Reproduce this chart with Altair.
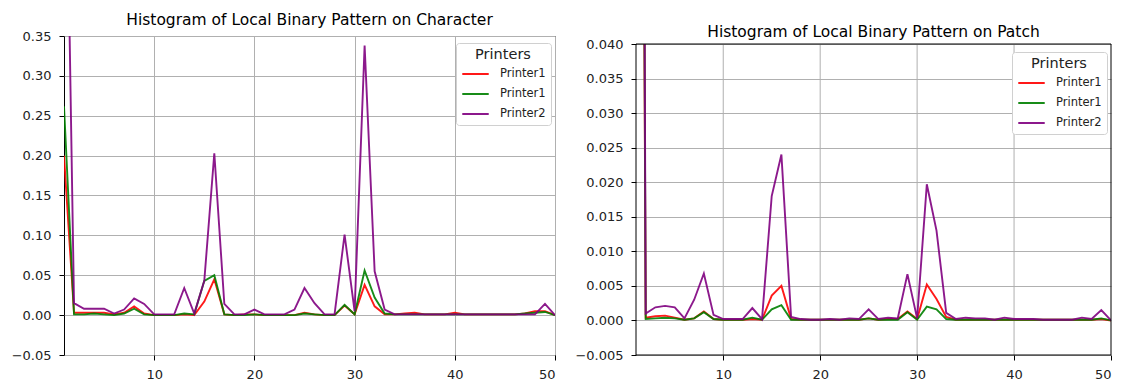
import altair as alt
import pandas as pd

x_index = list(range(1, 51))
series_keys = ["Printer1_a", "Printer1_b", "Printer2"]
series_colors = ["#ff0000", "#008000", "#800080"]

# Histogram of LBP on Character
char_red = [0.20, 0.003, 0.003, 0.003, 0.003, 0.001, 0.003, 0.011, 0.002, 0.0,
            0.0, 0.0, 0.001, 0.0, 0.017, 0.045, 0.001, 0.0, 0.001, 0.001,
            0.0, 0.0, 0.0, 0.0, 0.003, 0.001, 0.0, 0.0, 0.012, 0.001,
            0.038, 0.011, 0.001, 0.001, 0.002, 0.003, 0.001, 0.001, 0.001, 0.003,
            0.001, 0.001, 0.001, 0.001, 0.001, 0.001, 0.002, 0.005, 0.005, 0.0]
char_green = [0.262, 0.001, 0.001, 0.002, 0.001, 0.0, 0.002, 0.008, 0.001, 0.0,
              0.0, 0.0, 0.002, 0.001, 0.043, 0.050, 0.001, 0.0, 0.0, 0.001,
              0.0, 0.0, 0.0, 0.0, 0.002, 0.001, 0.0, 0.0, 0.013, 0.001,
              0.056, 0.022, 0.002, 0.001, 0.001, 0.001, 0.001, 0.001, 0.001, 0.001,
              0.001, 0.001, 0.001, 0.001, 0.001, 0.001, 0.002, 0.003, 0.004, 0.0]
char_purple = [0.78, 0.015, 0.008, 0.008, 0.008, 0.002, 0.007, 0.021, 0.014, 0.001,
               0.001, 0.001, 0.034, 0.002, 0.043, 0.203, 0.014, 0.001, 0.001, 0.007,
               0.001, 0.001, 0.001, 0.007, 0.034, 0.015, 0.001, 0.001, 0.101, 0.005,
               0.338, 0.055, 0.007, 0.001, 0.001, 0.001, 0.001, 0.001, 0.001, 0.001,
               0.001, 0.001, 0.001, 0.001, 0.001, 0.001, 0.001, 0.001, 0.014, 0.0]

# Histogram of LBP on Patch
patch_red = [0.30, 0.0004, 0.0006, 0.0007, 0.0004, 0.0001, 0.0003, 0.0013, 0.0002, 0.0001,
             0.0001, 0.0001, 0.0002, 0.0001, 0.0036, 0.0050, 0.0002, 0.0001, 0.0001, 0.0001,
             0.0001, 0.0001, 0.0001, 0.0001, 0.0003, 0.0001, 0.0002, 0.0002, 0.0013, 0.0002,
             0.0052, 0.0031, 0.0005, 0.0001, 0.0001, 0.0001, 0.0001, 0.0001, 0.0001, 0.0001,
             0.0001, 0.0001, 0.0001, 0.0001, 0.0001, 0.0001, 0.0001, 0.0001, 0.0002, 0.0]
patch_green = [0.33, 0.0002, 0.0003, 0.0004, 0.0003, 0.0001, 0.0003, 0.0012, 0.0002, 0.0001,
               0.0001, 0.0001, 0.0004, 0.0001, 0.0016, 0.0022, 0.0001, 0.0001, 0.0001, 0.0001,
               0.0001, 0.0001, 0.0001, 0.0001, 0.0003, 0.0001, 0.0001, 0.0001, 0.0012, 0.0001,
               0.0020, 0.0016, 0.0002, 0.0001, 0.0001, 0.0001, 0.0001, 0.0001, 0.0001, 0.0001,
               0.0001, 0.0001, 0.0001, 0.0001, 0.0001, 0.0001, 0.0001, 0.0001, 0.0003, 0.0]
patch_purple = [0.39, 0.0010, 0.0019, 0.0021, 0.0019, 0.0003, 0.0030, 0.0068, 0.0008, 0.0002,
                0.0002, 0.0002, 0.0018, 0.0002, 0.0180, 0.0240, 0.0005, 0.0002, 0.0001, 0.0001,
                0.0002, 0.0001, 0.0003, 0.0002, 0.0016, 0.0002, 0.0004, 0.0003, 0.0067, 0.0003,
                0.0197, 0.0130, 0.0011, 0.0002, 0.0004, 0.0003, 0.0003, 0.0001, 0.0004, 0.0002,
                0.0002, 0.0002, 0.0001, 0.0001, 0.0001, 0.0001, 0.0004, 0.0002, 0.0015, 0.0]

char_title = "Histogram of Local Binary Pattern on Character"
patch_title = "Histogram of Local Binary Pattern on Patch"
char_yticks = [-0.05, 0.0, 0.05, 0.10, 0.15, 0.20, 0.25, 0.30, 0.35]
patch_yticks = [-0.005, 0.0, 0.005, 0.010, 0.015, 0.020, 0.025, 0.030, 0.035, 0.040]
x_ticks = [10, 20, 30, 40, 50]
x_grid = [10, 20, 30, 40]


def long_table(series_lists):
    rows = []
    for key, vals in zip(series_keys, series_lists):
        for xi, v in zip(x_index, vals):
            rows.append({"bin": xi, "value": v, "series": key})
    return pd.DataFrame(rows)


char_df = long_table([char_red, char_green, char_purple])
patch_df = long_table([patch_red, patch_green, patch_purple])

color_scale = alt.Scale(domain=series_keys, range=series_colors)
x_scale = alt.Scale(domain=[1, 50], nice=False, zero=False)

GRID = "#b0b0b0"
W_L, H_L = 491, 319
W_R, H_R = 475, 319
R_TOP = 8  # right plot frame starts this far below the left one
LEG_W = 93


def legend(lx, ly):
    return alt.Legend(
        title="Printers", orient="none", legendX=lx, legendY=ly,
        fillColor="white", strokeColor="#d0d0d0", cornerRadius=3,
        padding=5, titleFontSize=14.5, titleFontWeight="normal",
        titleColor="#222222", titleAnchor="middle", titlePadding=-3,
        labelFontSize=11.5, labelColor="#222222",
        labelExpr="split(datum.label, '_')[0]",
        symbolType="stroke", symbolSize=700, symbolStrokeWidth=2,
        rowPadding=0, labelOffset=10,
    )


def lines(df, yticks, fmt, yrange, x_grid_on, lx, ly):
    if yrange is not None:
        yscale = alt.Scale(domain=[yticks[0], yticks[-1]], nice=False, zero=False,
                           range=yrange)
    else:
        yscale = alt.Scale(domain=[yticks[0], yticks[-1]], nice=False, zero=False)
    return alt.Chart(df).mark_line(clip=True, strokeWidth=1.9, opacity=0.9).encode(
        x=alt.X("bin:Q", scale=x_scale,
                axis=alt.Axis(values=x_ticks, title=None, format="d", grid=x_grid_on)),
        y=alt.Y("value:Q", scale=yscale,
                axis=alt.Axis(values=yticks, title=None,
                              labelExpr=f"replace(format(datum.value, '{fmt}'), '-', '\u2212')")),
        color=alt.Color("series:N", scale=color_scale, legend=legend(lx, ly)),
    )


left = lines(char_df, char_yticks, ".2f", None, True, W_L - 6 - LEG_W, 7).properties(
    width=W_L, height=H_L,
    title=alt.TitleParams(char_title, fontSize=15.5, fontWeight="normal",
                          font="DejaVu Sans", color="black", offset=2, anchor="middle"),
)

# right panel: frame and vertical grid drawn explicitly so the plot starts lower
grid_df = pd.DataFrame({"bin": x_grid})
right_grid = alt.Chart(grid_df).mark_rule(color=GRID, strokeWidth=1).encode(
    x=alt.X("bin:Q", scale=x_scale), y=alt.value(R_TOP), y2=alt.value(H_R)
)
right_lines = lines(patch_df, patch_yticks, ".3f", [H_R, R_TOP], False,
                    W_R - 6 - LEG_W, R_TOP + 8)
cover = alt.Chart(pd.DataFrame({"f": [0]})).mark_rect(
    color="white", strokeWidth=0
).encode(x=alt.value(-1), x2=alt.value(W_R + 1), y=alt.value(0), y2=alt.value(R_TOP))
frame = alt.Chart(pd.DataFrame({"f": [0]})).mark_rect(
    filled=False, stroke="black", strokeWidth=1
).encode(x=alt.value(0), x2=alt.value(W_R), y=alt.value(R_TOP), y2=alt.value(H_R))

right = alt.layer(right_grid, right_lines, cover, frame).properties(
    width=W_R, height=H_R,
    view=alt.ViewBackground(strokeOpacity=0),
    title=alt.TitleParams(patch_title, fontSize=15.5, fontWeight="normal",
                          font="DejaVu Sans", color="black", offset=-4, anchor="middle"),
)

chart = alt.hconcat(left, right, spacing=18).resolve_legend(
    color="independent"
).configure(
    padding={"left": 2, "top": 4, "right": 2, "bottom": 2},
    font="DejaVu Sans",
).configure_view(
    stroke="black", strokeWidth=1,
).configure_axis(
    domain=False, grid=True, gridColor=GRID, gridWidth=1,
    ticks=True, tickColor="black", tickSize=5, tickWidth=1,
    labelFont="DejaVu Sans", labelFontSize=13, labelColor="#222222", labelPadding=8,
)

chart.save("out.html", embed_options={"renderer": "svg", "actions": False})
